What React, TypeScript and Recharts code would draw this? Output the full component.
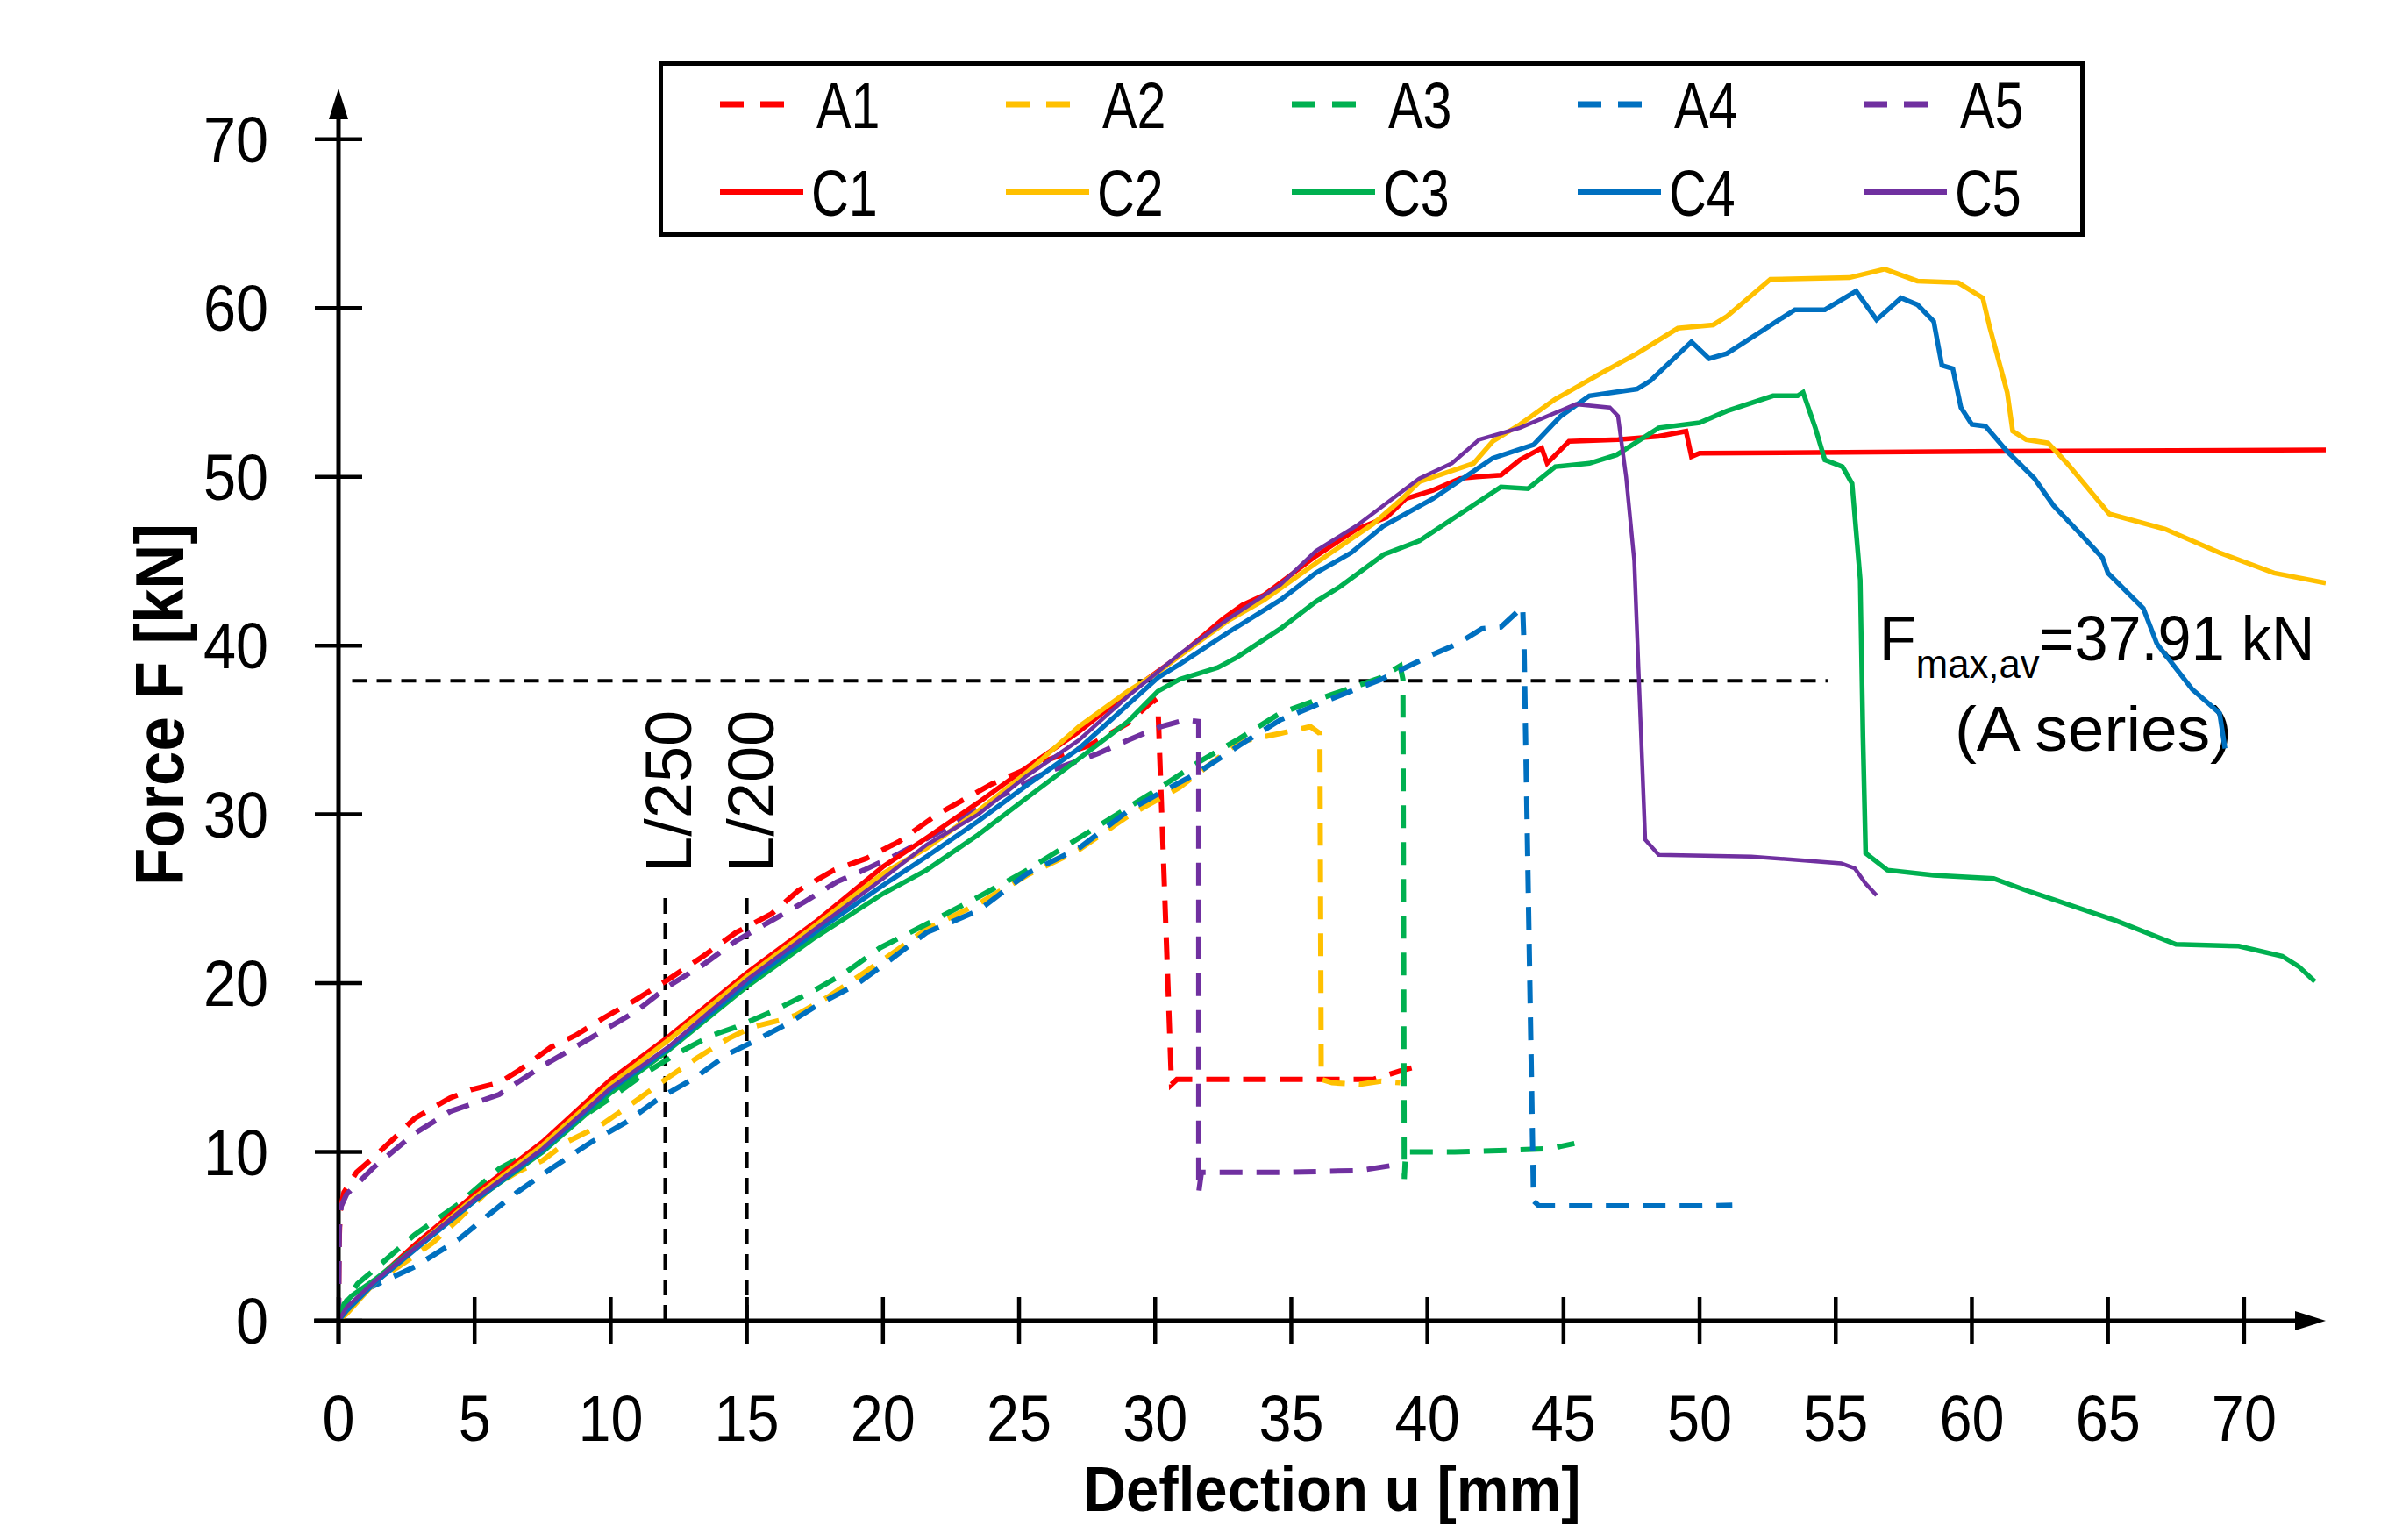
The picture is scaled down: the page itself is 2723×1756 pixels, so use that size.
import React from 'react';
import { LineChart, Line, XAxis, YAxis, ReferenceLine, Legend } from 'recharts';

const FONT = "'Liberation Sans', Arial, sans-serif";
const INK = '#000000';

const RED = '#FF0000';
const YELLOW = '#FFC000';
const GREEN = '#00B050';
const BLUE = '#0070C0';
const PURPLE = '#7030A0';

// axis ticks
const X_TICKS = [0, 5, 10, 15, 20, 25, 30, 35, 40, 45, 50, 55, 60, 65, 70];
const Y_TICKS = [0, 10, 20, 30, 40, 50, 60, 70];
const AXIS_MAX = 73;

// reference levels
const F_MAX_AV = 37.91;
const F_MAX_FROM = 0.5;
const F_MAX_TO = 54.7;
const SERVICE_LIMITS = [
  { name: 'L/250', u: 12 },
  { name: 'L/200', u: 15 },
];
const LIMIT_TOP = 25.2;

// [deflection u (mm), force F (kN)]
const A1: [number, number][] = [
  [0, 0], [0.02, 4.5], [0.06, 6.5], [0.2, 7.6], [0.66, 8.8], [1.3, 9.7], [2.1, 10.9], [2.8, 12.0],
  [4.1, 13.2], [4.9, 13.7], [5.9, 14.1], [6.6, 14.8], [7.8, 16.2], [8.7, 16.9], [9.7, 17.9],
  [10.9, 19.0], [12.1, 20.2], [13.4, 21.6], [14.6, 23.0], [15.9, 24.1], [16.9, 25.5], [18.2, 26.7],
  [19.4, 27.4], [20.6, 28.4], [22.0, 30.0], [24.0, 31.8], [26.0, 33.2], [27.6, 34.1], [29.0, 35.4],
  [29.96, 36.8], [30.1, 36.5], [30.6, 14.0], [30.8, 14.3], [35.0, 14.3], [38.0, 14.3], [39.0, 14.8],
  [39.7, 15.1],
];
const A2: [number, number][] = [
  [0, 0], [0.5, 1.0], [1.2, 2.2], [2.2, 3.2], [3.45, 4.6], [4.4, 6.0], [5.6, 7.85], [6.55, 8.8],
  [7.5, 9.5], [8.4, 10.6], [9.65, 11.6], [10.9, 13.0], [12.1, 14.4], [13.1, 15.5], [14.3, 16.7],
  [15.2, 17.4], [16.2, 17.8], [16.8, 18.1], [18.0, 19.2], [19.1, 20.4], [20.2, 21.6], [21.6, 23.2],
  [23.5, 24.7], [25.3, 26.4], [27.2, 27.9], [29.0, 29.9], [30.9, 31.6], [32.2, 33.2], [33.1, 34.3],
  [34.6, 34.8], [35.7, 35.2], [36.05, 34.8], [36.1, 14.3], [36.5, 14.1], [37.5, 14.0], [38.3, 14.2],
  [39.0, 14.1],
];
const A3: [number, number][] = [
  [0, 0], [0.3, 1.2], [0.7, 2.2], [1.3, 3.0], [2.8, 5.1], [4.4, 6.9], [5.9, 9.0], [7.5, 10.4],
  [8.7, 11.8], [10.0, 13.2], [11.2, 14.6], [12.4, 15.8], [13.7, 16.9], [14.6, 17.4], [15.9, 18.3],
  [17.4, 19.5], [18.6, 20.6], [19.9, 22.1], [21.6, 23.5], [23.5, 25.1], [25.3, 26.7], [27.2, 28.6],
  [29.0, 30.4], [30.1, 31.5], [31.6, 33.1], [33.1, 34.5], [34.6, 36.0], [36.4, 37.05], [38.3, 38.1],
  [39.0, 38.8], [39.1, 38.0], [39.15, 8.4], [39.2, 10.0], [41.0, 10.0], [43.0, 10.1], [44.5, 10.2],
  [45.4, 10.5],
];
const A4: [number, number][] = [
  [0, 0], [0.66, 1.6], [1.6, 2.3], [2.8, 3.2], [4.4, 4.8], [5.3, 6.0], [6.55, 7.6], [7.8, 9.0],
  [9.3, 10.6], [10.6, 11.8], [11.8, 13.2], [13.1, 14.4], [14.3, 15.8], [15.2, 16.5], [16.5, 17.6],
  [17.7, 18.8], [19.0, 19.9], [20.2, 21.3], [21.6, 23.0], [23.5, 24.3], [25.3, 26.5], [27.2, 28.0],
  [29.0, 30.2], [30.1, 31.2], [31.6, 32.5], [33.1, 34.1], [34.6, 35.6], [36.4, 36.8], [38.3, 38.0],
  [40.1, 39.4], [41.1, 40.1], [42.0, 41.0], [42.7, 41.1], [43.5, 42.3], [43.55, 40.0], [43.9, 7.1],
  [44.1, 6.8], [47.0, 6.8], [50.0, 6.8], [51.2, 6.85],
];
const A5: [number, number][] = [
  [0, 0], [0.03, 5.5], [0.1, 6.8], [0.3, 7.5], [1.3, 9.1], [2.8, 11.1], [4.1, 12.4], [5.9, 13.4],
  [7.5, 15.1], [9.0, 16.5], [10.9, 18.3], [12.1, 19.8], [13.4, 21.1], [14.6, 22.5], [15.9, 23.7],
  [17.1, 24.8], [18.3, 26.0], [19.3, 26.7], [20.5, 27.6], [22.0, 28.9], [24.0, 30.8], [26.0, 32.5],
  [27.9, 33.6], [29.0, 34.4], [30.2, 35.2], [31.1, 35.6], [31.6, 35.5], [31.6, 7.6], [31.7, 8.8],
  [35.0, 8.8], [37.5, 8.9], [38.7, 9.2],
];
const C1: [number, number][] = [
  [0, 0], [0.3, 0.5], [1.3, 2.3], [2.8, 4.5], [5.0, 7.5], [7.5, 10.6], [10.0, 14.3], [12.1, 16.8],
  [15.0, 20.6], [17.5, 23.6], [20.0, 26.9], [21.6, 28.6], [23.5, 30.7], [25.3, 32.8], [27.2, 34.9],
  [29.0, 37.2], [30.9, 39.4], [32.5, 41.6], [33.2, 42.4], [34.0, 43.0], [35.9, 45.3], [37.4, 46.9],
  [38.5, 47.6], [39.2, 48.7], [40.2, 49.2], [41.2, 49.9], [41.8, 50.0], [42.7, 50.1], [43.4, 51.0],
  [44.2, 51.7], [44.4, 50.8], [45.2, 52.1], [47.0, 52.2], [48.5, 52.4], [49.5, 52.7], [49.7, 51.2],
  [50.0, 51.4], [60.0, 51.5], [73.0, 51.6],
];
const C2: [number, number][] = [
  [0, 0], [0.3, 0.4], [1.3, 2.2], [2.8, 4.3], [5.0, 7.3], [7.5, 10.4], [10.0, 14.0], [12.1, 16.6],
  [15.0, 20.4], [17.5, 23.4], [20.0, 26.5], [21.6, 28.0], [23.5, 30.2], [25.3, 32.5], [27.2, 35.2],
  [29.0, 37.3], [30.1, 38.4], [30.9, 39.4], [32.7, 41.5], [34.0, 42.7], [36.0, 45.0], [38.0, 47.2],
  [39.0, 48.6], [39.7, 49.7], [41.7, 50.8], [42.4, 52.1], [43.4, 53.1], [44.7, 54.6], [46.45, 56.2],
  [47.7, 57.3], [49.2, 58.8], [50.5, 59.0], [51.0, 59.5], [52.6, 61.7], [55.5, 61.8], [56.8, 62.3],
  [58.0, 61.6], [59.5, 61.5], [60.4, 60.6], [60.65, 58.9], [61.3, 55.0], [61.5, 52.7], [62.0, 52.2],
  [62.8, 52.0], [63.5, 50.8], [65.05, 47.8], [67.1, 46.9], [68.1, 46.2], [69.1, 45.5], [71.1, 44.3],
  [73.0, 43.7],
];
const C3: [number, number][] = [
  [0, 0], [0.2, 1.0], [0.5, 1.5], [1.3, 2.4], [2.8, 4.3], [5.0, 7.1], [7.5, 10.0], [10.0, 13.5],
  [12.1, 16.0], [15.0, 19.8], [17.5, 22.7], [20.0, 25.3], [21.6, 26.7], [23.5, 28.8], [25.3, 31.0],
  [27.2, 33.3], [29.0, 35.5], [30.1, 37.3], [30.9, 38.0], [32.3, 38.7], [33.0, 39.3], [34.6, 41.0],
  [35.9, 42.6], [36.8, 43.5], [38.4, 45.4], [39.7, 46.2], [42.7, 49.4], [43.7, 49.3], [44.7, 50.6],
  [45.95, 50.8], [46.95, 51.3], [48.5, 52.9], [50.0, 53.2], [51.0, 53.9], [52.7, 54.8], [53.6, 54.8],
  [53.8, 55.0], [54.25, 52.9], [54.6, 51.0], [55.25, 50.6], [55.6, 49.6], [55.9, 43.9], [56.0, 34.6],
  [56.1, 27.7], [56.9, 26.7], [58.6, 26.4], [60.8, 26.2], [62.0, 25.5], [65.3, 23.7], [67.5, 22.3],
  [69.8, 22.2], [71.4, 21.6], [72.0, 21.0], [72.6, 20.1],
];
const C4: [number, number][] = [
  [0, 0], [0.3, 0.6], [1.3, 2.2], [2.8, 4.2], [5.0, 7.1], [7.5, 10.1], [10.0, 13.7], [12.1, 16.1],
  [15.0, 20.0], [17.5, 23.0], [20.0, 25.8], [21.6, 27.5], [23.5, 29.6], [25.3, 31.75], [27.2, 33.9],
  [29.0, 36.5], [30.1, 38.1], [30.9, 38.9], [32.7, 40.8], [34.6, 42.7], [35.9, 44.3], [37.2, 45.5],
  [38.4, 47.1], [40.2, 48.7], [42.4, 51.1], [43.9, 51.9], [44.9, 53.6], [45.95, 54.8], [47.7, 55.2],
  [48.2, 55.7], [49.7, 58.0], [50.35, 57.0], [51.0, 57.3], [53.5, 59.9], [54.6, 59.9], [55.75, 61.0],
  [56.5, 59.3], [57.4, 60.6], [58.0, 60.2], [58.6, 59.2], [58.9, 56.6], [59.3, 56.4], [59.6, 54.1],
  [60.0, 53.1], [60.5, 53.0], [61.3, 51.5], [62.3, 49.9], [63.0, 48.3], [64.0, 46.6], [64.8, 45.2],
  [65.0, 44.3], [66.3, 42.2], [66.8, 40.1], [68.1, 37.4], [69.1, 36.0], [69.3, 33.9],
];
const C5: [number, number][] = [
  [0, 0], [0.3, 0.8], [1.3, 2.3], [2.8, 4.3], [5.0, 7.2], [7.5, 10.2], [10.0, 13.8], [12.1, 16.2],
  [15.0, 20.2], [17.5, 23.2], [20.0, 26.2], [21.6, 28.2], [23.5, 30.0], [25.3, 32.3], [27.2, 34.4],
  [29.0, 37.0], [30.9, 39.5], [32.7, 41.6], [34.6, 43.6], [35.9, 45.6], [37.4, 47.1], [39.7, 49.9],
  [40.9, 50.8], [41.9, 52.2], [43.4, 52.9], [45.45, 54.3], [46.7, 54.1], [47.0, 53.6], [47.3, 50.0],
  [47.6, 45.0], [48.0, 28.5], [48.5, 27.6], [51.9, 27.5], [55.2, 27.1], [55.7, 26.8], [56.1, 25.9],
  [56.5, 25.2],
];

const toRows = (pts: [number, number][]) => pts.map(([u, f]) => ({ u, f }));

const A_SERIES = [
  { name: 'A1', color: RED, pts: A1 },
  { name: 'A2', color: YELLOW, pts: A2 },
  { name: 'A3', color: GREEN, pts: A3 },
  { name: 'A4', color: BLUE, pts: A4 },
  { name: 'A5', color: PURPLE, pts: A5 },
];
const C_SERIES = [
  { name: 'C1', color: RED, pts: C1 },
  { name: 'C2', color: YELLOW, pts: C2 },
  { name: 'C3', color: GREEN, pts: C3 },
  { name: 'C4', color: BLUE, pts: C4 },
  { name: 'C5', color: PURPLE, pts: C5 },
];

const W = 2707;
const H = 1740;
const TICK_FONT = 74;
const HALF_TICK = 27;

// text squeezed horizontally to get close to the narrow drawing font of the original
const NarrowText = ({ x, y, sx = 0.9, rotate = 0, children, ...rest }: any) => (
  <text
    x={0}
    y={0}
    transform={`translate(${x} ${y})${rotate ? ` rotate(${rotate})` : ''} scale(${sx} 1)`}
    fontFamily={FONT}
    fill={INK}
    {...rest}
  >
    {children}
  </text>
);

// axis line with an arrow head at the far end
const ArrowAxis = (props: any) => {
  const { x1, y1, x2, y2 } = props;
  const dx = x2 - x1;
  const dy = y2 - y1;
  const len = Math.hypot(dx, dy) || 1;
  const ux = dx / len;
  const uy = dy / len;
  const head = 35;
  const half = 11;
  const bx = x2 - ux * head;
  const by = y2 - uy * head;
  return (
    <g>
      <line x1={x1} y1={y1} x2={bx} y2={by} stroke={INK} strokeWidth={5} />
      <polygon
        points={`${x2},${y2} ${bx - uy * half},${by + ux * half} ${bx + uy * half},${by - ux * half}`}
        fill={INK}
      />
    </g>
  );
};

const XTick = ({ x, y, payload }: any) => (
  <g>
    <line x1={x} x2={x} y1={y - HALF_TICK} y2={y + HALF_TICK} stroke={INK} strokeWidth={4.5} />
    <NarrowText x={x} y={y + 137} textAnchor="middle" fontSize={TICK_FONT}>
      {payload.value}
    </NarrowText>
  </g>
);

const YTick = ({ x, y, payload }: any) => (
  <g>
    <line x1={x - HALF_TICK} x2={x + HALF_TICK} y1={y} y2={y} stroke={INK} strokeWidth={4.5} />
    <NarrowText x={x - 80} y={y + 26} textAnchor="end" fontSize={TICK_FONT}>
      {payload.value}
    </NarrowText>
  </g>
);

const XTitle = ({ viewBox }: any) => {
  const { x, y, width } = viewBox;
  return (
    <NarrowText x={x + width / 2} y={y + 217} sx={0.92} textAnchor="middle" fontWeight="bold" fontSize={73}>
      Deflection u [mm]
    </NarrowText>
  );
};

const YTitle = ({ viewBox }: any) => {
  const { x, y, height } = viewBox;
  return (
    <NarrowText
      x={x + 23}
      y={y + height / 2}
      rotate={-90}
      sx={0.92}
      textAnchor="middle"
      fontWeight="bold"
      fontSize={77}
    >
      Force F [kN]
    </NarrowText>
  );
};

const LimitLabel = (name: string) => ({ viewBox }: any) => (
  <NarrowText x={viewBox.x + 30} y={viewBox.y - 26} rotate={-90} sx={1} textAnchor="start" fontSize={TICK_FONT}>
    {name}
  </NarrowText>
);

const FmaxLabel = ({ viewBox }: any) => {
  const right = viewBox.x + viewBox.width;
  const y = viewBox.y;
  return (
    <g>
      <NarrowText x={right + 59} y={y - 23} sx={0.95} fontSize={72}>
        F
        <tspan fontSize={46} dy={20}>max,av</tspan>
        <tspan dy={-20}>{`=${F_MAX_AV} kN`}</tspan>
      </NarrowText>
      <NarrowText x={right + 303} y={y + 80} sx={1.04} textAnchor="middle" fontSize={72}>
        (A series)
      </NarrowText>
    </g>
  );
};

const LEG_W = 1626;
const LEG_H = 200;
const LEG_COL = 326;

const LegendBox = () => (
  <svg width={LEG_W} height={LEG_H} style={{ display: 'block' }}>
    <rect x={2.5} y={2.5} width={LEG_W - 5} height={LEG_H - 5} fill="#ffffff" stroke={INK} strokeWidth={5} />
    {[A_SERIES, C_SERIES].map((row, r) =>
      row.map((s, i) => {
        const x0 = 70 + i * LEG_COL;
        const cy = 49 + r * 100;
        const dashed = r === 0;
        return (
          <g key={s.name}>
            <line
              x1={x0}
              x2={dashed ? x0 + 73 : x0 + 95}
              y1={cy}
              y2={cy}
              stroke={s.color}
              strokeWidth={dashed ? 7 : 6}
              strokeDasharray={dashed ? '27 19' : undefined}
            />
            <NarrowText x={dashed ? x0 + 110 : x0 + 104} y={cy + 27} sx={0.8} fontSize={74}>
              {s.name}
            </NarrowText>
          </g>
        );
      })
    )}
  </svg>
);

export default function App() {
  return (
    <div style={{ width: W, height: H, background: '#ffffff' }}>
      <LineChart width={W} height={H} margin={{ top: 93, right: 63, bottom: 92, left: 178 }}>
        <XAxis
          type="number"
          dataKey="u"
          domain={[0, AXIS_MAX]}
          ticks={X_TICKS}
          allowDataOverflow
          axisLine={false}
          tickLine={false}
          tickSize={0}
          tickMargin={0}
          tick={<XTick />}
          height={150}
          label={{ content: XTitle }}
        />
        <YAxis
          type="number"
          dataKey="f"
          domain={[0, AXIS_MAX]}
          ticks={Y_TICKS}
          allowDataOverflow
          axisLine={false}
          tickLine={false}
          tickSize={0}
          tickMargin={0}
          tick={<YTick />}
          width={200}
          label={{ content: YTitle }}
        />
        <Legend
          layout="horizontal"
          verticalAlign="middle"
          align="center"
          wrapperStyle={{ left: 743, top: 62, width: LEG_W, height: LEG_H }}
          content={<LegendBox />}
        />

        <ReferenceLine
          segment={[{ x: -0.9, y: 0 }, { x: AXIS_MAX, y: 0 }]}
          ifOverflow="visible"
          shape={ArrowAxis}
        />
        <ReferenceLine
          segment={[{ x: 0, y: -1.4 }, { x: 0, y: AXIS_MAX }]}
          ifOverflow="visible"
          shape={ArrowAxis}
        />

        {SERVICE_LIMITS.map((l) => (
          <ReferenceLine
            key={l.name}
            segment={[{ x: l.u, y: 0 }, { x: l.u, y: LIMIT_TOP }]}
            stroke={INK}
            strokeWidth={4}
            strokeDasharray="18 11"
            ifOverflow="visible"
            label={{ content: LimitLabel(l.name) }}
          />
        ))}
        <ReferenceLine
          segment={[{ x: F_MAX_FROM, y: F_MAX_AV }, { x: F_MAX_TO, y: F_MAX_AV }]}
          stroke={INK}
          strokeWidth={4}
          strokeDasharray="17 11"
          ifOverflow="visible"
          label={{ content: FmaxLabel }}
        />

        {A_SERIES.map((s) => (
          <Line
            key={s.name}
            name={s.name}
            data={toRows(s.pts)}
            dataKey="f"
            type="linear"
            stroke={s.color}
            strokeWidth={6}
            strokeDasharray="26 16"
            dot={false}
            activeDot={false}
            isAnimationActive={false}
          />
        ))}
        {C_SERIES.map((s) => (
          <Line
            key={s.name}
            name={s.name}
            data={toRows(s.pts)}
            dataKey="f"
            type="linear"
            stroke={s.color}
            strokeWidth={s.name === 'C5' ? 4.5 : 5.5}
            dot={false}
            activeDot={false}
            isAnimationActive={false}
          />
        ))}
      </LineChart>
    </div>
  );
}
